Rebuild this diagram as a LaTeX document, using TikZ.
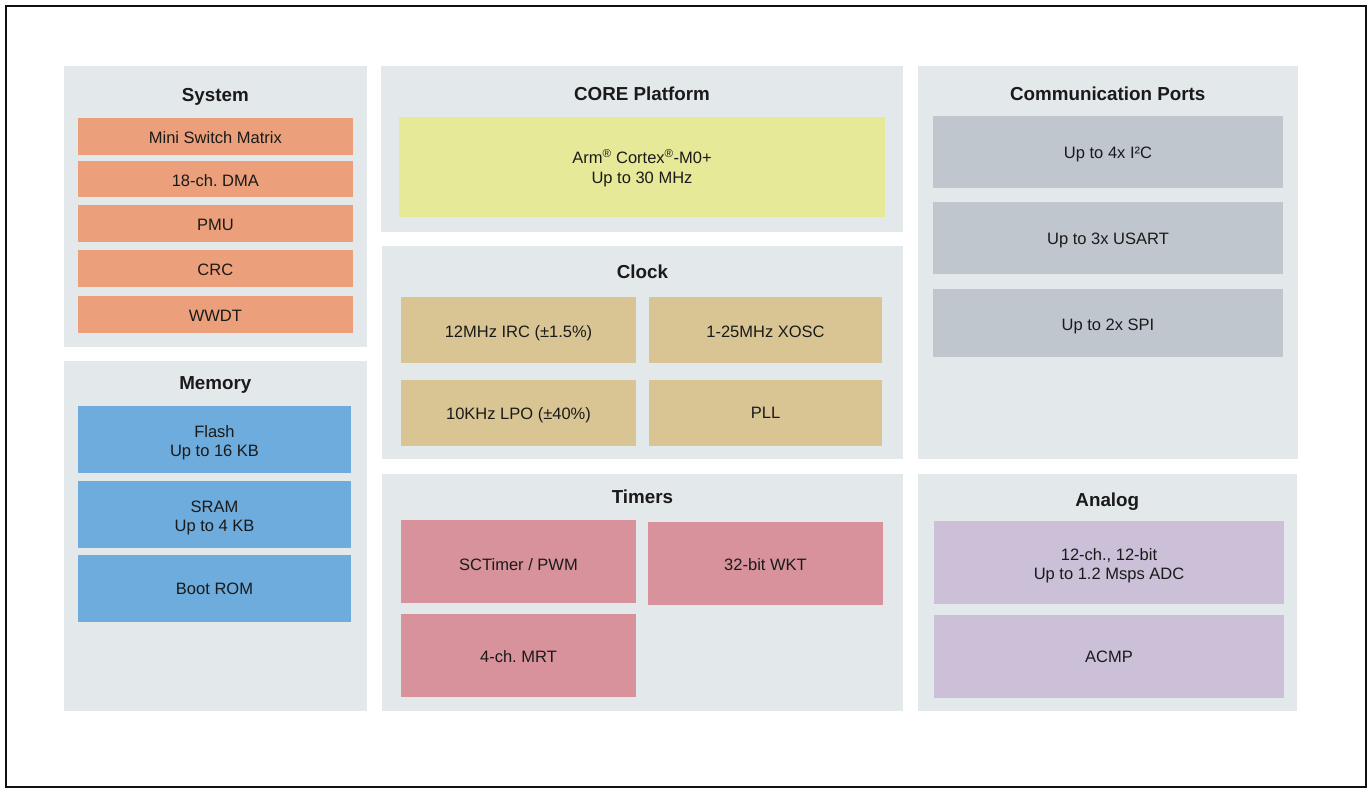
\documentclass[tikz,border=0pt]{standalone}
\usepackage{fontspec}
\setmainfont{Liberation Sans}
\frenchspacing
\definecolor{panelgray}{HTML}{E3E8EB}
\definecolor{sysorange}{HTML}{EBA07B}
\definecolor{memblue}{HTML}{6DACDC}
\definecolor{coreyellow}{HTML}{E6EA98}
\definecolor{clocktan}{HTML}{D9C594}
\definecolor{timerpink}{HTML}{D7929B}
\definecolor{commgray}{HTML}{BFC6CD}
\definecolor{analoglav}{HTML}{CBC0D8}
\definecolor{textcol}{HTML}{1A1A1A}
\definecolor{framecol}{HTML}{111111}
\newcommand\blk[7]{\node[#6, minimum width={(#4-#2)*1pt}, minimum height={(#5-#3)*1pt}] (#1) at ({(#2+#4)/2},{(#3+#5)/2}) {#7};}
\begin{document}
\begin{tikzpicture}[x=1pt,y=-1pt,
  every node/.style={inner sep=0pt, outer sep=0pt, text=textcol},
  panel/.style={fill=panelgray},
  title/.style={font=\fontsize{18.8}{22}\selectfont\bfseries, anchor=base},
  item/.style={align=center, font=\fontsize{16.5}{19.3}\selectfont\frenchspacing},
  th/.style={text height=#1, text depth=1.2pt},
  sysbox/.style={item, fill=sysorange},
  membox/.style={item, fill=memblue},
  corebox/.style={item, fill=coreyellow},
  clkbox/.style={item, fill=clocktan},
  timbox/.style={item, fill=timerpink},
  combox/.style={item, fill=commgray},
  anabox/.style={item, fill=analoglav},
  frame/.style={draw=framecol, line width=2pt}
]
\useasboundingbox (0,0) rectangle (1369,788);
\fill[white] (0,0) rectangle (1369,788);
\draw[frame] (6,6) rectangle (1365.7,787);

% System
\blk{sysP}{64}{66}{366.5}{346.5}{panel}{}
\node[title] (sysT) at (215.3,101) {System};
\blk{mini}{78}{118}{352.7}{154.7}{sysbox, th=16pt}{Mini Switch Matrix}
\blk{dma}{78}{160.7}{352.7}{197.3}{sysbox, th=16pt}{18-ch. DMA}
\blk{pmu}{78}{205}{352.7}{241.7}{sysbox, th=16pt}{PMU}
\blk{crc}{78}{250}{352.7}{286.7}{sysbox, th=16pt}{CRC}
\blk{wwdt}{78}{296}{352.7}{332.7}{sysbox, th=16pt}{WWDT}

% Memory
\blk{memP}{64}{361}{366.5}{711}{panel}{}
\node[title] (memT) at (215.3,389) {Memory};
\blk{flash}{78}{406}{351}{472.7}{membox, th=35.3pt}{Flash\\Up to 16 KB}
\blk{sram}{78}{481}{351}{547.5}{membox, th=35.3pt}{SRAM\\Up to 4 KB}
\blk{boot}{78}{555}{351}{621.5}{membox, th=14pt}{Boot ROM}

% CORE
\blk{coreP}{381}{66}{903}{231.7}{panel}{}
\node[title] (coreT) at (642,100) {CORE Platform};
\blk{arm}{399}{117.3}{885}{216.7}{corebox, th=33.7pt}{Arm\textsuperscript{®} Cortex\textsuperscript{®}-M0+\\Up to 30 MHz}

% Clock
\blk{clkP}{382}{246}{903}{459}{panel}{}
\node[title] (clkT) at (642.5,278) {Clock};
\blk{irc}{401}{297.3}{636}{362.7}{clkbox, th=17pt}{12MHz IRC (±1.5\%)}
\blk{xosc}{649}{297.3}{882}{362.7}{clkbox, th=17pt}{1-25MHz XOSC}
\blk{lpo}{401}{380}{636}{445.7}{clkbox, th=15pt}{10KHz LPO (±40\%)}
\blk{pll}{649}{380}{882}{445.7}{clkbox, th=13pt}{PLL}

% Timers
\blk{timP}{382}{474}{903}{711}{panel}{}
\node[title] (timT) at (642.5,503) {Timers};
\blk{sct}{401}{520}{636}{602.7}{timbox, th=20pt}{SCTimer / PWM}
\blk{wkt}{648}{522}{883}{604.7}{timbox, th=16pt}{32-bit WKT}
\blk{mrt}{401}{614}{636}{696.7}{timbox, th=15pt}{4-ch. MRT}

% Communication Ports
\blk{comP}{918}{66}{1297.5}{458.7}{panel}{}
\node[title] (comT) at (1107.7,100.5) {Communication Ports};
\blk{i2c}{933}{116}{1283}{187.7}{combox, th=15pt}{Up to 4x I²C}
\blk{usart}{933}{201.7}{1283}{274}{combox, th=14pt}{Up to 3x USART}
\blk{spi}{933}{289}{1283}{356.7}{combox, th=17pt}{Up to 2x SPI}

% Analog
\blk{anaP}{917.5}{474}{1297}{711}{panel}{}
\node[title] (anaT) at (1107.3,506) {Analog};
\blk{adc}{934}{521}{1284}{604}{anabox, th=35.3pt}{12-ch., 12-bit\\Up to 1.2 Msps ADC}
\blk{acmp}{934}{615}{1284}{698}{anabox, th=14pt}{ACMP}
\end{tikzpicture}
\end{document}
